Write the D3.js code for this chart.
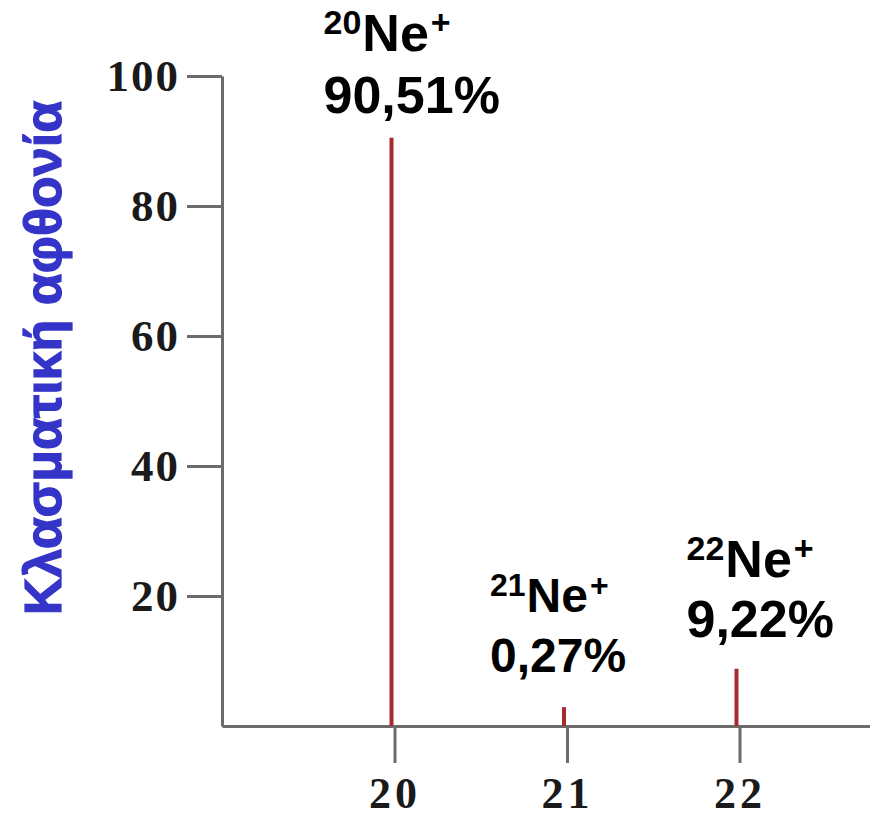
<!DOCTYPE html>
<html lang="el">
<head>
    <meta charset="UTF-8">
    <title>Φάσμα μάζας νέου</title>
    <script src="https://d3js.org/d3.v7.min.js"></script>
    <style>
        body { margin: 0; background: #fff; }
        svg { display: block; }
    </style>
</head>
<body>
    <svg width="870" height="819" id="chart"></svg>

    <script>
        // data
        const masses = [20, 21, 22];
        const isotopes = ["20", "21", "22"];            // mass numbers in the labels
        const abundanceLabels = ["90,51%", "0,27%", "9,22%"];
        const peakHeights = [90.5, 2.9, 8.8];           // drawn peak heights (%)
        const yTicks = [20, 40, 60, 80, 100];
        const xTicks = [20, 21, 22];
        const yTitle = "Κλασματική αφθονία";

        const svg = d3.select("#chart");

        const x = d3.scaleLinear().domain([19, 23]).range([222, 912]);
        const y = d3.scaleLinear().domain([0, 100]).range([726, 76]);

        const axisColor = "#6b6b6b";
        const tickFont = "'Liberation Serif', 'DejaVu Serif', serif";

        // y axis
        const yAxis = svg.append("g")
            .attr("transform", `translate(${x(19)},0)`)
            .call(d3.axisLeft(y).tickValues(yTicks).tickFormat(d3.format("d"))
                .tickSize(35).tickSizeOuter(0).tickPadding(7));

        // x axis
        const xAxis = svg.append("g")
            .attr("transform", `translate(0,${y(0)})`)
            .call(d3.axisBottom(x).tickValues(xTicks).tickFormat(d3.format("d"))
                .tickSize(37).tickSizeOuter(0).tickPadding(14));

        [yAxis, xAxis].forEach(g => {
            g.select(".domain").attr("stroke", axisColor).attr("stroke-width", 3);
            g.selectAll(".tick line").attr("stroke", axisColor).attr("stroke-width", 3);
            g.selectAll(".tick text")
                .attr("fill", "#1a1a1a")
                .attr("font-family", tickFont)
                .attr("font-weight", "bold")
                .attr("font-size", 45)
                .attr("letter-spacing", 2);
        });
        xAxis.selectAll(".tick text").attr("font-size", 44).attr("letter-spacing", 4);

        // peaks
        svg.append("g").selectAll("line")
            .data(masses)
            .join("line")
            .attr("x1", d => x(d) - 3)
            .attr("x2", d => x(d) - 3)
            .attr("y1", y(0))
            .attr("y2", (d, i) => y(peakHeights[i]))
            .attr("stroke", "#a52b2e")
            .attr("stroke-width", 4);

        // labels placed relative to peak top: dx, dy of second line, line gap, font size
        const labelLayout = [
            { dx: -68, dy: -25, gap: 62, size: 52 },
            { dx: -74, dy: -35, gap: 60, size: 48 },
            { dx: -50, dy: -32, gap: 60, size: 52 }
        ];

        const labels = svg.append("g")
            .attr("font-family", "'Liberation Sans', Arial, sans-serif")
            .attr("font-weight", "bold")
            .attr("fill", "#000");

        masses.forEach((m, i) => {
            const L = labelLayout[i];
            const lx = x(m) - 3 + L.dx;
            const base2 = y(peakHeights[i]) + L.dy;
            const base1 = base2 - L.gap;
            const sup = Math.round(L.size * 0.66);
            const raise = Math.round(L.size * 0.33);

            const t1 = labels.append("text")
                .attr("x", lx)
                .attr("y", base1);
            t1.append("tspan").attr("font-size", sup).attr("dy", -raise).text(isotopes[i]);
            t1.append("tspan").attr("font-size", L.size).attr("dy", raise).attr("dx", 1).text("Ne");
            t1.append("tspan").attr("font-size", sup).attr("dy", -raise).attr("dx", 2).text("+");

            labels.append("text")
                .attr("x", lx)
                .attr("y", base2)
                .attr("font-size", L.size)
                .text(abundanceLabels[i]);
        });

        // y title
        svg.append("text")
            .attr("transform", "translate(61,358) rotate(-90)")
            .attr("text-anchor", "middle")
            .attr("font-family", "'Liberation Sans', Arial, sans-serif")
            .attr("font-weight", "bold")
            .attr("font-size", 52)
            .attr("stroke", "#3434c8")
            .attr("stroke-width", 1.2)
            .attr("fill", "#3434c8")
            .text(yTitle);
    </script>
</body>
</html>
